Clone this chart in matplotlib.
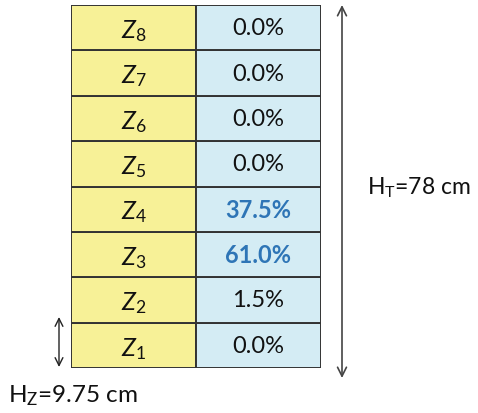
import matplotlib
matplotlib.use("Agg")
import matplotlib.pyplot as plt

plt.rcParams['font.family'] = ['Lato', 'DejaVu Sans']
plt.rcParams['mathtext.fontset'] = 'custom'
plt.rcParams['mathtext.rm'] = 'Lato'
plt.rcParams['mathtext.it'] = 'Lato:italic'

# zones from bottom (Z1) to top (Z8)
zones = [1, 2, 3, 4, 5, 6, 7, 8]
shares = [0.0, 1.5, 61.0, 37.5, 0.0, 0.0, 0.0, 0.0]
total_label = "H$_{\\mathrm{T}}$=78 cm"
zone_label = "H$_{\\mathrm{Z}}$=9.75 cm"

W, H = 478, 414
fig = plt.figure(figsize=(W / 100, H / 100), dpi=100)

# table axes, pixel box of the grid
x0, x1, ytop, ybot = 71, 321, 6, 369
ax = fig.add_axes([x0 / W, (H - ybot) / H, (x1 - x0) / W, (ybot - ytop) / H])
rows = range(len(zones))
ax.barh(rows, [1] * len(zones), left=0, height=1, align='edge',
        color='#f7f197', edgecolor='#333333', linewidth=1.4)
ax.barh(rows, [1] * len(zones), left=1, height=1, align='edge',
        color='#d4ecf4', edgecolor='#333333', linewidth=1.4)
for i, (z, s) in enumerate(zip(zones, shares)):
    ax.text(0.5, i + 0.45, "$Z_{\\mathrm{%d}}$" % z, ha='center', va='center',
            fontsize=18, color='#111111')
    big = s > 10
    ax.text(1.5, i + 0.5, "%.1f%%" % s, ha='center', va='center',
            fontsize=17, color='#2e75b6' if big else '#111111',
            fontweight='bold' if big else 'normal')
ax.set_xlim(0, 2)
ax.set_ylim(0, len(zones))
ax.axis('off')

# overlay axes in pixel coordinates for dimension arrows
ov = fig.add_axes([0, 0, 1, 1])
ov.set_xlim(0, W)
ov.set_ylim(H, 0)
ov.axis('off')
ov.annotate('', xy=(342, 6), xytext=(342, 379),
            arrowprops=dict(arrowstyle='<->', color='#444444', lw=1.2,
                            mutation_scale=16, shrinkA=0, shrinkB=0))
ov.text(367, 188, total_label, fontsize=16.5, va='center', ha='left', color='#111111')
ov.annotate('', xy=(59, 318), xytext=(59, 368),
            arrowprops=dict(arrowstyle='<->', color='#222222', lw=1.0,
                            mutation_scale=14, shrinkA=0, shrinkB=0))
ov.text(8, 396, zone_label, fontsize=17.5, va='center', ha='left', color='#111111')

fig.savefig('out.png', dpi=100)
